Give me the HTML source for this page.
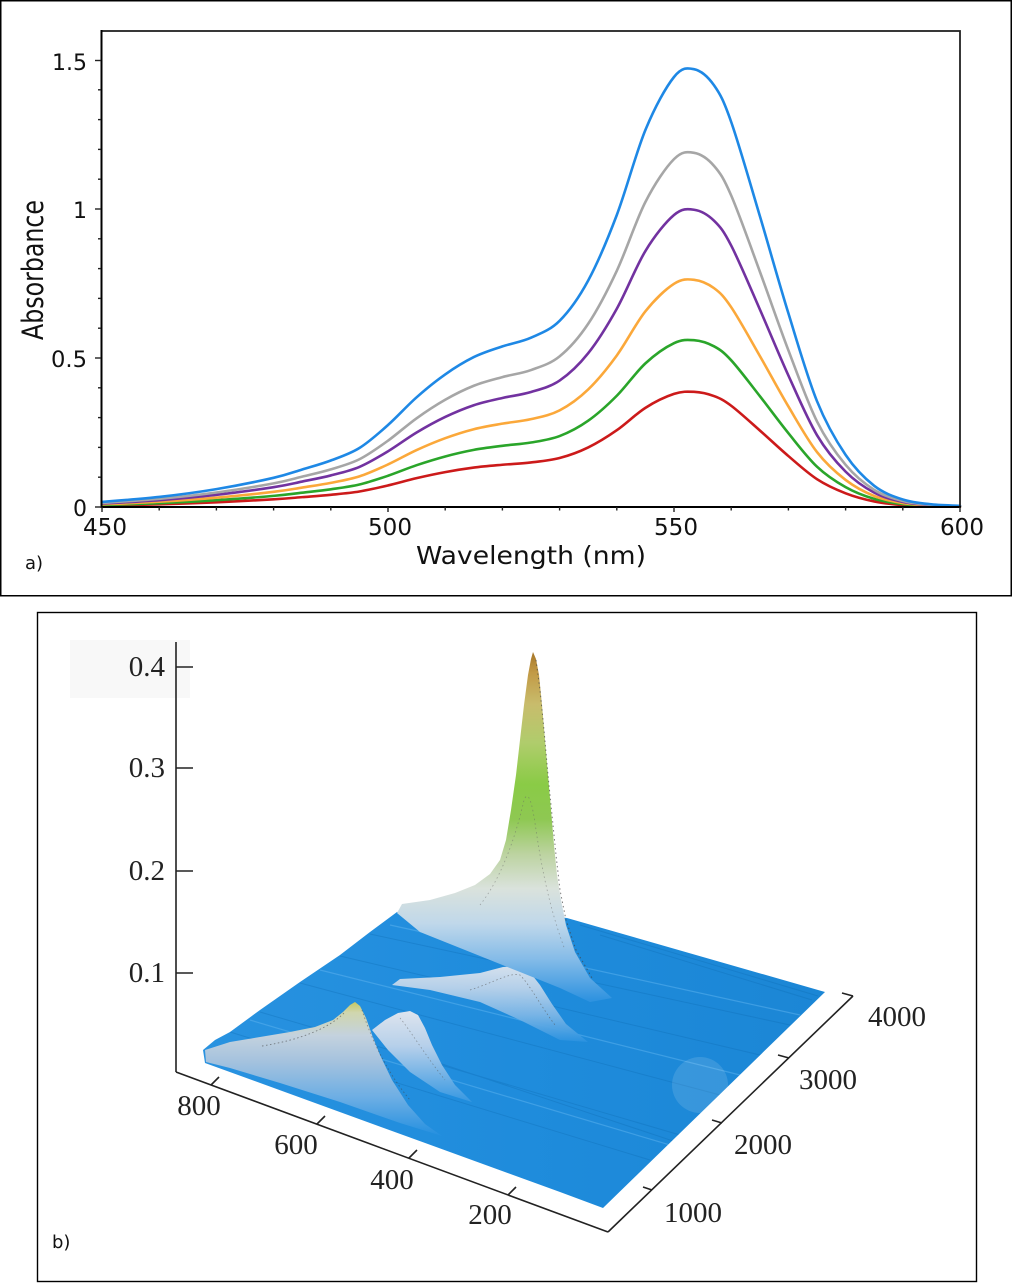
<!DOCTYPE html>
<html>
<head>
<meta charset="utf-8">
<style>
  html,body{margin:0;padding:0;background:#fff;}
  svg{display:block;}
</style>
</head>
<body>
<svg width="1012" height="1284" viewBox="0 0 1012 1284" xmlns="http://www.w3.org/2000/svg">
  <defs>
    <linearGradient id="gBig" gradientUnits="userSpaceOnUse" x1="0" y1="652" x2="0" y2="1000">
      <stop offset="0" stop-color="#a67628"/>
      <stop offset="0.06" stop-color="#c29a46"/>
      <stop offset="0.15" stop-color="#c8bc6c"/>
      <stop offset="0.26" stop-color="#b0cc6c"/>
      <stop offset="0.38" stop-color="#8acb46"/>
      <stop offset="0.48" stop-color="#8ec852"/>
      <stop offset="0.58" stop-color="#bcd3a0"/>
      <stop offset="0.68" stop-color="#dae2dc"/>
      <stop offset="0.78" stop-color="#c0d8ea"/>
      <stop offset="0.88" stop-color="#86bce8"/>
      <stop offset="1" stop-color="#2f93e0"/>
    </linearGradient>
    <linearGradient id="gMid" gradientUnits="userSpaceOnUse" x1="0" y1="965" x2="0" y2="1042">
      <stop offset="0" stop-color="#e0e6ee"/>
      <stop offset="0.3" stop-color="#bcd3ea"/>
      <stop offset="0.65" stop-color="#7cb6e6"/>
      <stop offset="1" stop-color="#2a92e0"/>
    </linearGradient>
    <linearGradient id="gP3" gradientUnits="userSpaceOnUse" x1="0" y1="1002" x2="0" y2="1135">
      <stop offset="0" stop-color="#c6c862"/>
      <stop offset="0.08" stop-color="#d0d6ae"/>
      <stop offset="0.25" stop-color="#c4d2de"/>
      <stop offset="0.45" stop-color="#a4c2de"/>
      <stop offset="0.72" stop-color="#6caee4"/>
      <stop offset="1" stop-color="#2590e0"/>
    </linearGradient>
    <linearGradient id="gP4" gradientUnits="userSpaceOnUse" x1="0" y1="1010" x2="0" y2="1100">
      <stop offset="0" stop-color="#dfe5ee"/>
      <stop offset="0.4" stop-color="#b6d0ea"/>
      <stop offset="1" stop-color="#3a9ae2"/>
    </linearGradient>
    <linearGradient id="gPlane" gradientUnits="userSpaceOnUse" x1="200" y1="0" x2="830" y2="0">
      <stop offset="0" stop-color="#2892e0"/>
      <stop offset="0.5" stop-color="#1f8cdc"/>
      <stop offset="1" stop-color="#1b86d5"/>
    </linearGradient>
    <clipPath id="planeClip">
      <path d="M203,1050 L215,1040 L230,1032 L260,1010 L300,982 L340,955 L370,932 L397,912 L440,905 L567,918 L825,992 L603,1208 L560,1192 L205,1063 Z"/>
    </clipPath>
  </defs>

  <!-- ===== Panel a ===== -->
  <rect x="0.75" y="0.75" width="1010.5" height="595" fill="#fff" stroke="#000" stroke-width="1.5"/>

  <!-- curves -->
  <g fill="none" stroke-width="2.6" stroke-linejoin="round" stroke-linecap="round">
    <path stroke="#cc1a1a" vector-effect="non-scaling-stroke" transform="matrix(1,0,0,0.263,0,373.66)" d="M102,501.9 C111.5,501.1 140.1,499.0 159.2,496.9 S197.3,492.3 216.4,489.1 S259.3,481.1 273.6,477.8 S292.7,472.4 302.2,469.5 S321.3,464.1 330.8,460.5 S349.9,453.9 359.4,448 S378.5,433.5 388,425 S407.1,405.7 416.6,397.3 S435.7,381.1 445.2,374.4 S464.3,361.8 473.8,357.1 S492.9,349.6 502.4,346.4 S521.5,342 531,337.7 S550.1,330.3 559.6,320.8 S578.7,298.1 588.2,280.5 S607.3,240.1 616.8,215 S635.9,153 645.4,130 S665.9,87.1 674,77 S687.3,67.8 694,69.2 S707.8,76.5 714,85.3 S723.5,100.1 731.2,122 S750.5,184.6 760,216.5 S778.9,282.5 788.4,313.3 S807.5,377.6 817,401.2 S836.1,440.8 845.6,454.9 S864.7,478.4 874.2,485.8 S893.3,496.4 902.8,499.5 S921.9,503.3 931.4,504.3 S955.2,505.6 960,505.8"/>
    <path stroke="#2aa52a" vector-effect="non-scaling-stroke" transform="matrix(1,0,0,0.381,0,313.83)" d="M102,501.9 C111.5,501.1 140.1,499.0 159.2,496.9 S197.3,492.3 216.4,489.1 S259.3,481.1 273.6,477.8 S292.7,472.4 302.2,469.5 S321.3,464.1 330.8,460.5 S349.9,453.9 359.4,448 S378.5,433.5 388,425 S407.1,405.7 416.6,397.3 S435.7,381.1 445.2,374.4 S464.3,361.8 473.8,357.1 S492.9,349.6 502.4,346.4 S521.5,342 531,337.7 S550.1,330.3 559.6,320.8 S578.7,298.1 588.2,280.5 S607.3,240.1 616.8,215 S635.9,153 645.4,130 S665.9,87.1 674,77 S687.3,67.8 694,69.2 S707.8,76.5 714,85.3 S723.5,100.1 731.2,122 S750.5,184.6 760,216.5 S778.9,282.5 788.4,313.3 S807.5,377.6 817,401.2 S836.1,440.8 845.6,454.9 S864.7,478.4 874.2,485.8 S893.3,496.4 902.8,499.5 S921.9,503.3 931.4,504.3 S955.2,505.6 960,505.8"/>
    <path stroke="#fba83a" vector-effect="non-scaling-stroke" transform="matrix(1,0,0,0.519,0,243.87)" d="M102,501.9 C111.5,501.1 140.1,499.0 159.2,496.9 S197.3,492.3 216.4,489.1 S259.3,481.1 273.6,477.8 S292.7,472.4 302.2,469.5 S321.3,464.1 330.8,460.5 S349.9,453.9 359.4,448 S378.5,433.5 388,425 S407.1,405.7 416.6,397.3 S435.7,381.1 445.2,374.4 S464.3,361.8 473.8,357.1 S492.9,349.6 502.4,346.4 S521.5,342 531,337.7 S550.1,330.3 559.6,320.8 S578.7,298.1 588.2,280.5 S607.3,240.1 616.8,215 S635.9,153 645.4,130 S665.9,87.1 674,77 S687.3,67.8 694,69.2 S707.8,76.5 714,85.3 S723.5,100.1 731.2,122 S750.5,184.6 760,216.5 S778.9,282.5 788.4,313.3 S807.5,377.6 817,401.2 S836.1,440.8 845.6,454.9 S864.7,478.4 874.2,485.8 S893.3,496.4 902.8,499.5 S921.9,503.3 931.4,504.3 S955.2,505.6 960,505.8"/>
    <path stroke="#7232a0" vector-effect="non-scaling-stroke" transform="matrix(1,0,0,0.679,0,162.75)" d="M102,501.9 C111.5,501.1 140.1,499.0 159.2,496.9 S197.3,492.3 216.4,489.1 S259.3,481.1 273.6,477.8 S292.7,472.4 302.2,469.5 S321.3,464.1 330.8,460.5 S349.9,453.9 359.4,448 S378.5,433.5 388,425 S407.1,405.7 416.6,397.3 S435.7,381.1 445.2,374.4 S464.3,361.8 473.8,357.1 S492.9,349.6 502.4,346.4 S521.5,342 531,337.7 S550.1,330.3 559.6,320.8 S578.7,298.1 588.2,280.5 S607.3,240.1 616.8,215 S635.9,153 645.4,130 S665.9,87.1 674,77 S687.3,67.8 694,69.2 S707.8,76.5 714,85.3 S723.5,100.1 731.2,122 S750.5,184.6 760,216.5 S778.9,282.5 788.4,313.3 S807.5,377.6 817,401.2 S836.1,440.8 845.6,454.9 S864.7,478.4 874.2,485.8 S893.3,496.4 902.8,499.5 S921.9,503.3 931.4,504.3 S955.2,505.6 960,505.8"/>
    <path stroke="#a6a6a6" vector-effect="non-scaling-stroke" transform="matrix(1,0,0,0.809,0,96.84)" d="M102,501.9 C111.5,501.1 140.1,499.0 159.2,496.9 S197.3,492.3 216.4,489.1 S259.3,481.1 273.6,477.8 S292.7,472.4 302.2,469.5 S321.3,464.1 330.8,460.5 S349.9,453.9 359.4,448 S378.5,433.5 388,425 S407.1,405.7 416.6,397.3 S435.7,381.1 445.2,374.4 S464.3,361.8 473.8,357.1 S492.9,349.6 502.4,346.4 S521.5,342 531,337.7 S550.1,330.3 559.6,320.8 S578.7,298.1 588.2,280.5 S607.3,240.1 616.8,215 S635.9,153 645.4,130 S665.9,87.1 674,77 S687.3,67.8 694,69.2 S707.8,76.5 714,85.3 S723.5,100.1 731.2,122 S750.5,184.6 760,216.5 S778.9,282.5 788.4,313.3 S807.5,377.6 817,401.2 S836.1,440.8 845.6,454.9 S864.7,478.4 874.2,485.8 S893.3,496.4 902.8,499.5 S921.9,503.3 931.4,504.3 S955.2,505.6 960,505.8"/>
    <path stroke="#1e88e5" d="M102,501.9 C111.5,501.1 140.1,499.0 159.2,496.9 S197.3,492.3 216.4,489.1 S259.3,481.1 273.6,477.8 S292.7,472.4 302.2,469.5 S321.3,464.1 330.8,460.5 S349.9,453.9 359.4,448 S378.5,433.5 388,425 S407.1,405.7 416.6,397.3 S435.7,381.1 445.2,374.4 S464.3,361.8 473.8,357.1 S492.9,349.6 502.4,346.4 S521.5,342 531,337.7 S550.1,330.3 559.6,320.8 S578.7,298.1 588.2,280.5 S607.3,240.1 616.8,215 S635.9,153 645.4,130 S665.9,87.1 674,77 S687.3,67.8 694,69.2 S707.8,76.5 714,85.3 S723.5,100.1 731.2,122 S750.5,184.6 760,216.5 S778.9,282.5 788.4,313.3 S807.5,377.6 817,401.2 S836.1,440.8 845.6,454.9 S864.7,478.4 874.2,485.8 S893.3,496.4 902.8,499.5 S921.9,503.3 931.4,504.3 S955.2,505.6 960,505.8"/>
  </g>

  <!-- plot frame -->
  <rect x="101.5" y="31" width="858.5" height="476" fill="none" stroke="#222" stroke-width="1.8"/>
  <line x1="101.5" y1="30" x2="101.5" y2="508" stroke="#000" stroke-width="2"/>
  <line x1="100.5" y1="507" x2="961" y2="507" stroke="#000" stroke-width="2"/>

  <!-- y ticks -->
  <g stroke="#222" stroke-width="1.4">
    <line x1="95" y1="507" x2="101" y2="507"/>
    <line x1="95" y1="358" x2="101" y2="358"/>
    <line x1="95" y1="209" x2="101" y2="209"/>
    <line x1="95" y1="60.5" x2="101" y2="60.5"/>
    <line x1="98" y1="477.2" x2="101" y2="477.2"/>
    <line x1="98" y1="447.4" x2="101" y2="447.4"/>
    <line x1="98" y1="417.6" x2="101" y2="417.6"/>
    <line x1="98" y1="387.8" x2="101" y2="387.8"/>
    <line x1="98" y1="328.2" x2="101" y2="328.2"/>
    <line x1="98" y1="298.4" x2="101" y2="298.4"/>
    <line x1="98" y1="268.6" x2="101" y2="268.6"/>
    <line x1="98" y1="238.8" x2="101" y2="238.8"/>
    <line x1="98" y1="179.2" x2="101" y2="179.2"/>
    <line x1="98" y1="149.4" x2="101" y2="149.4"/>
    <line x1="98" y1="119.6" x2="101" y2="119.6"/>
    <line x1="98" y1="89.8" x2="101" y2="89.8"/>
  </g>
  <!-- x ticks -->
  <g stroke="#222" stroke-width="1.4">
    <line x1="102" y1="507" x2="102" y2="512"/>
    <line x1="388" y1="507" x2="388" y2="512"/>
    <line x1="674" y1="507" x2="674" y2="512"/>
    <line x1="960" y1="507" x2="960" y2="512"/>
    <line x1="159.2" y1="507" x2="159.2" y2="510.5"/>
    <line x1="216.4" y1="507" x2="216.4" y2="510.5"/>
    <line x1="273.6" y1="507" x2="273.6" y2="510.5"/>
    <line x1="330.8" y1="507" x2="330.8" y2="510.5"/>
    <line x1="445.2" y1="507" x2="445.2" y2="510.5"/>
    <line x1="502.4" y1="507" x2="502.4" y2="510.5"/>
    <line x1="559.6" y1="507" x2="559.6" y2="510.5"/>
    <line x1="616.8" y1="507" x2="616.8" y2="510.5"/>
    <line x1="731.2" y1="507" x2="731.2" y2="510.5"/>
    <line x1="788.4" y1="507" x2="788.4" y2="510.5"/>
    <line x1="845.6" y1="507" x2="845.6" y2="510.5"/>
    <line x1="902.8" y1="507" x2="902.8" y2="510.5"/>
  </g>

  <!-- tick labels -->
  <g font-family="'DejaVu Sans','Liberation Sans',sans-serif" fill="#111" font-size="22">
    <text x="87" y="70" text-anchor="end" textLength="35" lengthAdjust="spacingAndGlyphs">1.5</text>
    <text x="87" y="218" text-anchor="end">1</text>
    <text x="87" y="367" text-anchor="end" textLength="36" lengthAdjust="spacingAndGlyphs">0.5</text>
    <text x="87" y="516" text-anchor="end">0</text>
  </g>
  <g font-family="'DejaVu Sans','Liberation Sans',sans-serif" fill="#111" font-size="23" text-anchor="middle">
    <text x="105" y="535" textLength="44" lengthAdjust="spacingAndGlyphs">450</text>
    <text x="390" y="535" textLength="44" lengthAdjust="spacingAndGlyphs">500</text>
    <text x="676" y="535" textLength="44" lengthAdjust="spacingAndGlyphs">550</text>
    <text x="962" y="535" textLength="44" lengthAdjust="spacingAndGlyphs">600</text>
  </g>
  <text x="531" y="564" text-anchor="middle" font-family="'DejaVu Sans','Liberation Sans',sans-serif" font-size="25" fill="#111" textLength="230" lengthAdjust="spacingAndGlyphs">Wavelength (nm)</text>
  <text transform="translate(43,270) rotate(-90)" text-anchor="middle" font-family="'DejaVu Sans','Liberation Sans',sans-serif" font-size="29" fill="#111" textLength="140" lengthAdjust="spacingAndGlyphs">Absorbance</text>
  <text x="25" y="569" font-family="'DejaVu Sans','Liberation Sans',sans-serif" font-size="18" fill="#111">a)</text>

  <!-- ===== Panel b ===== -->
  <rect x="37.5" y="612.5" width="939" height="669" fill="#fff" stroke="#000" stroke-width="1.4"/>
  <rect x="70" y="640" width="120" height="58" fill="#f8f8f8"/>

  <!-- blue plane -->
  <path d="M203,1050 L215,1040 L230,1032 L260,1010 L300,982 L340,955 L370,932 L397,912 L440,905 L567,918 L825,992 L603,1208 L560,1192 L205,1063 Z" fill="url(#gPlane)"/>
  <!-- streaks on plane -->
  <g clip-path="url(#planeClip)">
    <g stroke="#0f6db5" stroke-width="1" fill="none" opacity="0.35">
      <path d="M230,1032 L650,1160"/>
      <path d="M260,1012 L680,1135"/>
      <path d="M300,983 L720,1095"/>
      <path d="M340,956 L760,1055"/>
      <path d="M370,934 L790,1025"/>
      <path d="M580,925 L818,996"/>
      <path d="M600,935 L812,1000"/>
      <path d="M430,1060 L745,1165"/>
    </g>
    <g stroke="#5fb4f0" stroke-width="1.2" fill="none" opacity="0.5">
      <path d="M250,1020 L670,1145"/>
      <path d="M320,970 L740,1075"/>
      <path d="M390,925 L800,1015"/>
    </g>
    <circle cx="700" cy="1085" r="28" fill="#ffffff" opacity="0.12"/>
  </g>

  <!-- middle peak -->
  <path d="M392,985 L400,979 L440,977 L480,973 L503,967 L518,966 L529,971 L540,985 L552,1004 L566,1024 L588,1042 L560,1040 L520,1020 L480,1002 L430,990 Z" fill="url(#gMid)" opacity="0.95"/>
  <path d="M470,990 C495,982 510,972 520,975 C530,985 540,1005 555,1025" fill="none" stroke="#555" stroke-width="0.8" stroke-dasharray="1.5,2.5" opacity="0.6"/>

  <!-- big peak -->
  <path d="M397,913 L402,904 L430,900 L455,893 L475,885 L490,874 L500,860 L506,840 L511,810 L516,775 L520,740 L524,705 L528,675 L531,659 L533,652 L536,659 L539,675 L542,705 L545,740 L548,775 L551,810 L554,845 L557,875 L561,900 L566,925 L575,952 L590,978 L612,998 L590,1002 L560,988 L520,972 L470,952 L420,932 Z" fill="url(#gBig)"/>
  <path d="M536,660 L540,690 L544,730 L548,775 L552,815 L556,855 L560,890 L566,920 L576,950 L592,978" fill="none" stroke="#444" stroke-width="1" stroke-dasharray="1.5,3" opacity="0.7"/>
  <path d="M480,905 C500,880 515,840 524,800 C528,790 532,800 536,830 C542,870 550,910 565,950" fill="none" stroke="#666" stroke-width="0.8" stroke-dasharray="1.5,3" opacity="0.5"/>

  <!-- small peak 4 -->
  <path d="M372,1030 L385,1020 L398,1013 L410,1011 L418,1015 L425,1028 L432,1045 L442,1065 L455,1085 L472,1102 L440,1092 L410,1072 L388,1050 Z" fill="url(#gP4)"/>
  <!-- small peak 3 -->
  <path d="M205,1050 L230,1042 L260,1037 L290,1032 L315,1027 L333,1020 L343,1012 L350,1005 L355,1002 L360,1006 L366,1018 L372,1035 L380,1055 L392,1080 L408,1105 L425,1124 L442,1136 L400,1123 L340,1102 L280,1083 L230,1068 L206,1062 Z" fill="url(#gP3)"/>
  <path d="M262,1046 C300,1040 330,1028 345,1012" fill="none" stroke="#444" stroke-width="0.9" stroke-dasharray="1.5,2.5" opacity="0.6"/>
  <path d="M362,1010 C370,1035 385,1070 410,1100" fill="none" stroke="#444" stroke-width="0.9" stroke-dasharray="1.5,2.5" opacity="0.5"/>
  <path d="M400,1018 C410,1030 425,1055 445,1080" fill="none" stroke="#555" stroke-width="0.8" stroke-dasharray="1.5,2.5" opacity="0.5"/>

  <!-- 3D axes -->
  <g stroke="#222" stroke-width="1.6" fill="none">
    <line x1="176" y1="642" x2="176" y2="1072"/>
    <line x1="176" y1="1072" x2="608" y2="1232"/>
    <line x1="608" y1="1232" x2="853" y2="996"/>
    <line x1="853" y1="996" x2="842" y2="993"/>
    <line x1="176" y1="667" x2="193" y2="667"/>
    <line x1="176" y1="768" x2="193" y2="768"/>
    <line x1="176" y1="871" x2="193" y2="871"/>
    <line x1="176" y1="973" x2="193" y2="973"/>
    <line x1="211" y1="1085" x2="219" y2="1077"/>
    <line x1="317" y1="1124" x2="325" y2="1116"/>
    <line x1="409" y1="1158" x2="417" y2="1150"/>
    <line x1="508" y1="1195" x2="516" y2="1187"/>
    <line x1="652" y1="1190" x2="643" y2="1187"/>
    <line x1="722" y1="1123" x2="712" y2="1120"/>
    <line x1="789" y1="1058" x2="778" y2="1055"/>
  </g>
  <g font-family="'Liberation Serif','DejaVu Serif',serif" font-size="29" fill="#222">
    <text x="165" y="676" text-anchor="end">0.4</text>
    <text x="165" y="777" text-anchor="end">0.3</text>
    <text x="165" y="880" text-anchor="end">0.2</text>
    <text x="165" y="982" text-anchor="end">0.1</text>
    <text x="199" y="1115" text-anchor="middle">800</text>
    <text x="296" y="1154" text-anchor="middle">600</text>
    <text x="392" y="1189" text-anchor="middle">400</text>
    <text x="490" y="1224" text-anchor="middle">200</text>
    <text x="693" y="1222" text-anchor="middle">1000</text>
    <text x="763" y="1154" text-anchor="middle">2000</text>
    <text x="828" y="1089" text-anchor="middle">3000</text>
    <text x="897" y="1026" text-anchor="middle">4000</text>
  </g>
  <text x="52" y="1248" font-family="'DejaVu Sans','Liberation Sans',sans-serif" font-size="18" fill="#111">b)</text>
</svg>
</body>
</html>
